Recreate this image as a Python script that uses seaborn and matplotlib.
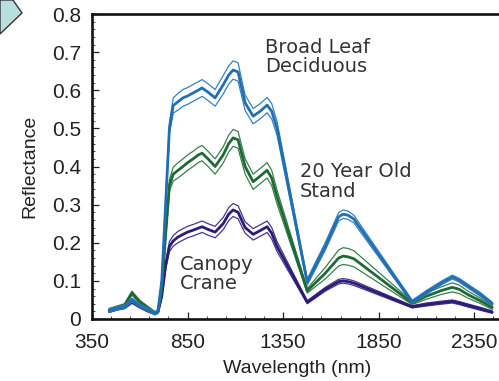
import numpy as np
import pandas as pd
import matplotlib
matplotlib.use("Agg")
import matplotlib.pyplot as plt
import seaborn as sns
from matplotlib.ticker import FixedLocator, MultipleLocator
from matplotlib.patches import Polygon

# ---------------- data ----------------
wavelength = [440, 480, 520, 559, 600, 640, 680, 695, 715, 735, 755, 775, 800, 826, 850,
              879, 905, 926, 957, 994, 1036, 1065, 1088, 1114, 1151, 1193, 1230, 1266, 1290,
              1318, 1476, 1570, 1640, 1664, 1690, 1720, 2025, 2100, 2180, 2235, 2270, 2320,
              2380, 2444]

broadleaf_mean = [0.022, 0.028, 0.032, 0.050, 0.035, 0.025, 0.015, 0.020, 0.10, 0.30, 0.50, 0.56,
                  0.57, 0.58, 0.585, 0.593, 0.600, 0.606, 0.595, 0.580, 0.614, 0.640, 0.653,
                  0.648, 0.567, 0.532, 0.545, 0.561, 0.545, 0.500, 0.097, 0.190, 0.268, 0.275,
                  0.272, 0.262, 0.045, 0.070, 0.095, 0.110, 0.102, 0.085, 0.065, 0.040]
broadleaf_spread = [0.004, 0.004, 0.004, 0.005, 0.004, 0.004, 0.004, 0.004, 0.005, 0.010, 0.015,
                    0.020, 0.022, 0.022, 0.022, 0.022, 0.022, 0.022, 0.022, 0.022, 0.024, 0.024,
                    0.024, 0.024, 0.020, 0.020, 0.020, 0.020, 0.020, 0.018, 0.008, 0.010, 0.011,
                    0.011, 0.011, 0.010, 0.004, 0.005, 0.005, 0.005, 0.005, 0.005, 0.005, 0.004]

stand_mean = [0.024, 0.030, 0.036, 0.068, 0.045, 0.030, 0.016, 0.020, 0.08, 0.22, 0.35, 0.38,
              0.39, 0.40, 0.41, 0.42, 0.43, 0.435, 0.42, 0.40, 0.43, 0.46, 0.475, 0.47, 0.40,
              0.36, 0.375, 0.39, 0.37, 0.32, 0.074, 0.120, 0.160, 0.165, 0.163, 0.158, 0.042,
              0.060, 0.075, 0.083, 0.078, 0.063, 0.048, 0.030]
stand_spread = [0.004, 0.004, 0.004, 0.005, 0.004, 0.004, 0.003, 0.004, 0.006, 0.010, 0.015,
                0.018, 0.020, 0.020, 0.020, 0.020, 0.020, 0.020, 0.020, 0.020, 0.021, 0.022,
                0.022, 0.022, 0.020, 0.020, 0.020, 0.020, 0.020, 0.018, 0.006, 0.015, 0.021,
                0.022, 0.022, 0.021, 0.004, 0.008, 0.010, 0.012, 0.011, 0.009, 0.007, 0.005]

crane_mean = [0.020, 0.026, 0.030, 0.045, 0.032, 0.022, 0.014, 0.018, 0.06, 0.14, 0.19, 0.205,
              0.215, 0.222, 0.228, 0.233, 0.238, 0.242, 0.235, 0.228, 0.250, 0.275, 0.286,
              0.280, 0.240, 0.222, 0.232, 0.242, 0.225, 0.190, 0.044, 0.078, 0.098, 0.100,
              0.098, 0.094, 0.032, 0.038, 0.043, 0.046, 0.042, 0.035, 0.027, 0.018]
crane_spread = [0.003, 0.003, 0.003, 0.004, 0.003, 0.003, 0.003, 0.003, 0.005, 0.010, 0.013,
                0.014, 0.015, 0.015, 0.015, 0.015, 0.015, 0.015, 0.015, 0.015, 0.016, 0.017,
                0.017, 0.017, 0.015, 0.015, 0.015, 0.015, 0.015, 0.013, 0.004, 0.005, 0.006,
                0.006, 0.006, 0.006, 0.003, 0.004, 0.004, 0.004, 0.004, 0.004, 0.004, 0.003]

x_ticks = [350, 850, 1350, 1850, 2350]
y_ticks = [0, 0.1, 0.2, 0.3, 0.4, 0.5, 0.6, 0.7, 0.8]
y_ticklabels = ["0", "0.1", "0.2", "0.3", "0.4", "0.5", "0.6", "0.7", "0.8"]

labels = ["Broad Leaf\nDeciduous", "20 Year Old\nStand", "Canopy\nCrane"]

# ---------------- style ----------------
sns.set_theme(style="white")
plt.rcParams["font.family"] = ["Liberation Sans", "DejaVu Sans"]

fig = plt.figure(figsize=(4.99, 3.81), dpi=100)
ax = fig.add_axes([92 / 499, 1 - 319 / 381, (503 - 92) / 499, (319 - 14) / 381])

groups = [
    (crane_mean, crane_spread, "#2b1c78", "#45368e"),
    (stand_mean, stand_spread, "#1d6a36", "#3b7d4e"),
    (broadleaf_mean, broadleaf_spread, "#1f6fb2", "#3680bd"),
]
wl = np.array(wavelength)
for mean, spread, c_main, c_thin in groups:
    m = np.array(mean)
    s = np.array(spread)
    sns.lineplot(x=wl, y=m + s, color=c_thin, linewidth=0.9, ax=ax)
    sns.lineplot(x=wl, y=m - s, color=c_thin, linewidth=0.9, ax=ax)
    sns.lineplot(x=wl, y=m, color=c_main, linewidth=2.0, ax=ax)

ax.set_xlim(350, 2500)
ax.set_ylim(0, 0.8)
ax.set_xticks(x_ticks)
ax.set_xticklabels([str(t) for t in x_ticks])
ax.set_yticks(y_ticks)
ax.set_yticklabels(y_ticklabels)
ax.xaxis.set_minor_locator(FixedLocator(np.arange(450, 2500, 100)))
ax.yaxis.set_minor_locator(MultipleLocator(0.02))

ax.tick_params(axis="both", which="major", direction="in", length=5, width=0.9,
               labelsize=15, colors="#222222", labelcolor="#222222")
ax.tick_params(axis="both", which="minor", direction="in", length=2.5, width=0.7,
               colors="#444444")
ax.tick_params(axis="y", which="major", pad=8)
ax.tick_params(axis="x", which="major", pad=10)
ax.tick_params(axis="both", which="both", left=True, bottom=True)

for side in ["left", "bottom", "top"]:
    ax.spines[side].set_visible(True)
    ax.spines[side].set_linewidth(1.9)
    ax.spines[side].set_color("#111111")
ax.spines["right"].set_visible(False)

ax.set_xlabel("Wavelength (nm)", fontsize=14, color="#222222", labelpad=5.5)
ax.set_ylabel("Reflectance", fontsize=14, color="#222222", labelpad=10)

txt_kw = dict(fontsize=14, color="#333333", family="DejaVu Sans",
              ha="left", va="center", linespacing=1.05)
ax.text(1256, 0.687, labels[0], **txt_kw)
ax.text(1439, 0.360, labels[1], **txt_kw)
ax.text(811, 0.118, labels[2], **txt_kw)

# decorative chevron in the top-left corner
pts = [(0, 0), (13, 0), (22, 13), (0, 34)]
poly = Polygon([(px / 499, 1 - py / 381) for px, py in pts], closed=True,
               transform=fig.transFigure, facecolor="#b8dedd", edgecolor="#333333",
               linewidth=1.0, clip_on=False)
fig.patches.append(poly)

fig.savefig("out.png", dpi=100)
